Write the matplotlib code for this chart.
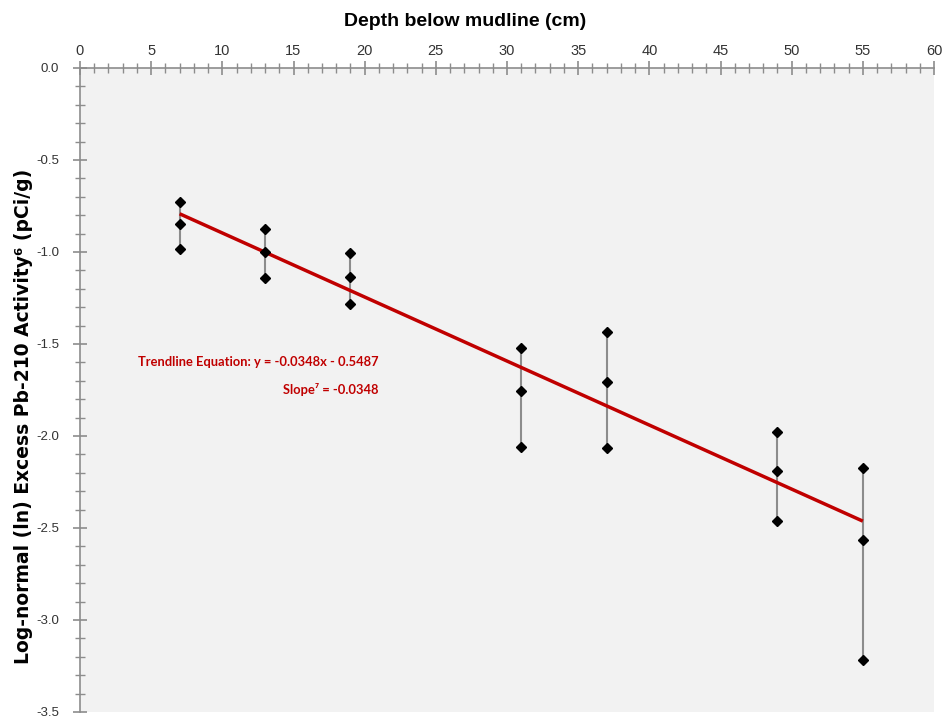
import matplotlib
matplotlib.use("Agg")
import matplotlib.pyplot as plt
import numpy as np
from matplotlib.ticker import MultipleLocator, FormatStrFormatter

# Data
depths = [7, 13, 19, 31, 37, 49, 55]
upper = [-0.728, -0.875, -1.005, -1.522, -1.435, -1.978, -2.174]
middle = [-0.848, -0.998, -1.136, -1.755, -1.707, -2.190, -2.565]
lower = [-0.984, -1.141, -1.283, -2.060, -2.065, -2.462, -3.217]
slope = -0.0348
intercept = -0.5487
trend_x = [7, 55]

fig = plt.figure(figsize=(9.42, 7.19), dpi=100)
ax = fig.add_axes([80/942, 1-712/719, 854/942, 644/719])
ax.set_facecolor('#f2f2f2')

for x, u, l in zip(depths, upper, lower):
    ax.plot([x, x], [l, u], color='#8c8c8c', lw=1.5, zorder=2)

tx = np.array(trend_x, dtype=float)
ax.plot(tx, slope*tx + intercept, color='#c00000', lw=2.5, zorder=3, solid_capstyle='butt')

for series in (upper, middle, lower):
    ax.plot(depths, series, linestyle='none', marker='D', ms=5, color='black', zorder=4)

ax.set_xlim(0, 60)
ax.set_ylim(-3.5, 0)
ax.xaxis.set_major_locator(MultipleLocator(5))
ax.xaxis.set_minor_locator(MultipleLocator(1))
ax.yaxis.set_major_locator(MultipleLocator(0.5))
ax.yaxis.set_minor_locator(MultipleLocator(0.1))
ax.xaxis.tick_top()
ax.yaxis.set_major_formatter(FormatStrFormatter('%.1f'))

for s in ('right', 'bottom'):
    ax.spines[s].set_visible(False)
for s in ('top', 'left'):
    ax.spines[s].set_color('#8c8c8c')
    ax.spines[s].set_linewidth(1.2)

ax.tick_params(axis='both', which='major', direction='inout', length=10, width=1.2,
               color='#8c8c8c', labelcolor='#333333')
ax.tick_params(axis='x', which='major', pad=2, labelsize=10.5)
ax.tick_params(axis='y', which='major', pad=10, labelsize=9.5)
ax.tick_params(axis='both', which='minor', direction='inout', length=7, width=1.0,
               color='#8c8c8c')
for lab in ax.get_xticklabels() + ax.get_yticklabels():
    lab.set_family('Liberation Sans')

fig.text(465/942, 1-21/719, 'Depth below mudline (cm)', fontsize=14, fontweight='bold',
         family='Liberation Sans', ha='center', va='center')
fig.text(24/942, 1-416/719, 'Log-normal (ln) Excess Pb-210 Activity\u2076 (pCi/g)',
         fontsize=13.5, fontweight='bold', family='DejaVu Sans',
         rotation=90, ha='center', va='center')

ax.text(21.0, -1.598, 'Trendline Equation: y = -0.0348x - 0.5487', color='#c00000',
        fontsize=9.3, fontweight='bold', family='Lato', ha='right', va='center')
ax.text(21.0, -1.75, 'Slope\u2077 = -0.0348', color='#c00000',
        fontsize=9.3, fontweight='bold', family=['Lato', 'DejaVu Sans'], ha='right', va='center')

fig.savefig('out.png', dpi=100, facecolor='white')
